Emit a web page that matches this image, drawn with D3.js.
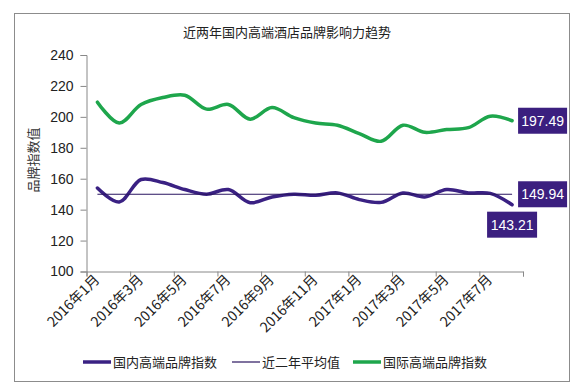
<!DOCTYPE html>
<html>
<head>
<meta charset="utf-8">
<script src="https://cdn.jsdelivr.net/npm/d3@7"></script>
<style>
  body { margin:0; background:#fff; }
  svg text { font-family: "Noto Sans CJK SC", "Noto Sans", sans-serif; }
</style>
</head>
<body>
<svg id="chart" width="578" height="387"></svg>
<script>
const months = ["2016年1月","2016年2月","2016年3月","2016年4月","2016年5月","2016年6月","2016年7月","2016年8月","2016年9月","2016年10月",
  "2016年11月","2016年12月","2017年1月","2017年2月","2017年3月","2017年4月","2017年5月","2017年6月","2017年7月","2017年8月"];
const domestic = [154, 145, 159.5, 157.5, 153, 150, 153, 144.5, 148.2, 150, 149.3, 150.8, 146.5, 144.7, 150.8, 148.2, 153, 150.8, 150.5, 143.21];
const average = [149.94, 149.94, 149.94, 149.94, 149.94, 149.94, 149.94, 149.94, 149.94, 149.94, 149.94, 149.94, 149.94, 149.94, 149.94, 149.94, 149.94, 149.94, 149.94, 149.94];
const international = [209.5, 196, 208, 212.5, 214, 205, 208, 198.5, 206, 199.5, 196, 194.6, 189.2, 184.2, 194.6, 190, 191.8, 193, 200.4, 197.49];
const yTicks = [100, 120, 140, 160, 180, 200, 220, 240];
const seriesNames = ["国内高端品牌指数", "近二年平均值", "国际高端品牌指数"];

const PURPLE = "#3a2183", GREEN = "#1ea64c", BOX = "#3b1f7f";
const svg = d3.select("#chart");

// outer frame
svg.append("rect").attr("x", 14.5).attr("y", 13.5).attr("width", 555).attr("height", 368)
  .attr("fill", "#fff").attr("stroke", "#8c8c8c");

svg.append("text").attr("x", 287).attr("y", 37).attr("text-anchor", "middle")
  .attr("font-size", 13).attr("fill", "#222").text("近两年国内高端酒店品牌影响力趋势");

const pL = 86.5, pR = 523, pT = 55, pB = 271.5;
const x = d3.scaleBand().domain(months).range([pL, pR]);
const xi = d3.scaleLinear().domain([0, months.length]).range([pL, pR]);
const y = d3.scaleLinear().domain([100, 240]).range([pB, pT]);
const cx = m => x(m) + x.bandwidth() / 2;

// y axis
const ya = svg.append("g").attr("transform", `translate(${pL},0)`)
  .call(d3.axisLeft(y).tickValues(yTicks).tickSize(6).tickPadding(7));
ya.select(".domain").attr("stroke", "#888");
ya.selectAll(".tick line").attr("stroke", "#888");
ya.selectAll(".tick text").attr("font-size", 14).attr("fill", "#222")
  .style("font-family", "'Liberation Sans', sans-serif");

// x axis: ticks between every two months
const xa = svg.append("g").attr("transform", `translate(0,${pB})`)
  .call(d3.axisBottom(xi).tickValues(d3.range(0, months.length + 1, 2)).tickSize(5).tickFormat(""));
xa.select(".domain").attr("stroke", "#888");
xa.selectAll(".tick line").attr("stroke", "#888");

svg.append("g").selectAll("text")
  .data(months.filter((m, i) => i % 2 === 0))
  .join("text")
  .attr("transform", d => `translate(${cx(d) + 3},${pB + 9}) rotate(-45)`)
  .attr("text-anchor", "end")
  .attr("font-size", 14).attr("fill", "#222")
  .text(d => d);

svg.append("text")
  .attr("transform", "translate(38,160) rotate(-90)")
  .attr("text-anchor", "middle").attr("font-size", 13).attr("fill", "#333")
  .text("品牌指数值");

// lines
const smooth = d3.line().x((d, i) => cx(months[i])).y(d => y(d)).curve(d3.curveCatmullRom.alpha(0.5));
const straight = d3.line().x((d, i) => cx(months[i])).y(d => y(d));

svg.append("path").datum(international).attr("d", smooth)
  .attr("fill", "none").attr("stroke", GREEN).attr("stroke-width", 3.5).attr("stroke-linecap", "round");
svg.append("path").datum(domestic).attr("d", smooth)
  .attr("fill", "none").attr("stroke", PURPLE).attr("stroke-width", 3.5).attr("stroke-linecap", "round");
svg.append("path").datum(average).attr("d", straight)
  .attr("fill", "none").attr("stroke", "#2a1560").attr("stroke-width", 1.2);

// value labels
const last = months.length - 1;
function valueBox(px, py, txt, w) {
  const g = svg.append("g");
  g.append("rect").attr("x", px).attr("y", py).attr("width", w).attr("height", 26).attr("fill", BOX);
  g.append("text").attr("x", px + w / 2).attr("y", py + 18).attr("text-anchor", "middle")
    .attr("font-size", 14).attr("fill", "#fff")
    .style("font-family", "'Liberation Sans', sans-serif").text(txt);
}
const lx = cx(months[last]);
valueBox(lx + 6, y(international[last]) - 13, international[last].toFixed(2), 49);
valueBox(lx + 6, y(average[last]) - 13, average[last].toFixed(2), 49);
valueBox(lx - 25, y(domestic[last]) + 7, domestic[last].toFixed(2), 50);

// legend
const legend = [
  { name: seriesNames[0], color: PURPLE, w: 3.5, x0: 83 },
  { name: seriesNames[1], color: "#2a1560", w: 1.2, x0: 232 },
  { name: seriesNames[2], color: GREEN, w: 3.5, x0: 353 }
];
const lg = svg.append("g");
legend.forEach(l => {
  lg.append("line").attr("x1", l.x0).attr("x2", l.x0 + 28).attr("y1", 362).attr("y2", 362)
    .attr("stroke", l.color).attr("stroke-width", l.w);
  lg.append("text").attr("x", l.x0 + 30).attr("y", 367).attr("font-size", 13).attr("fill", "#222").text(l.name);
});
</script>
</body>
</html>
